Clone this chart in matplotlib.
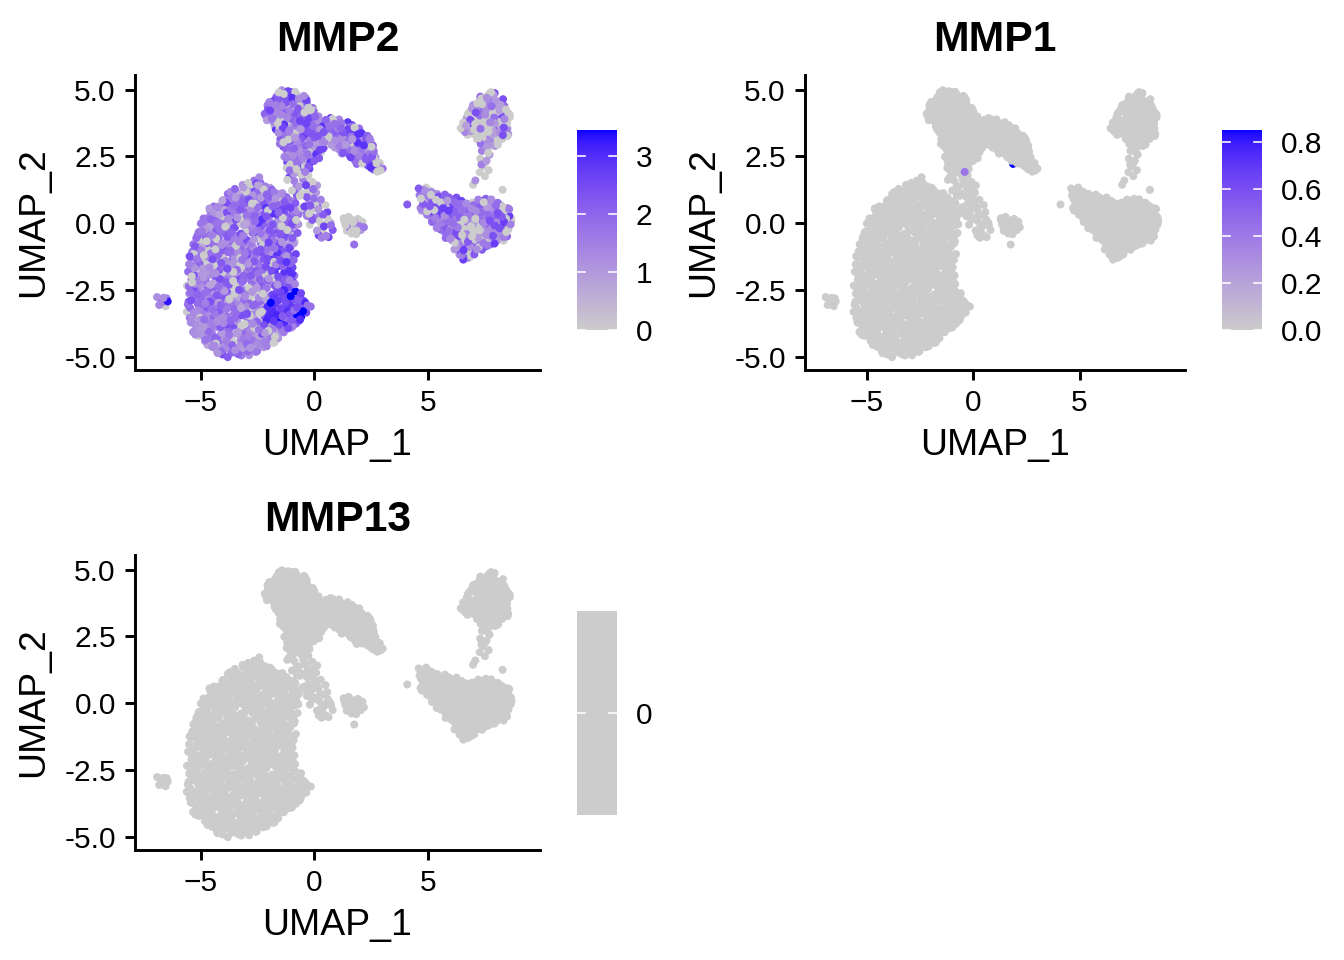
import numpy as np
import matplotlib
matplotlib.use("Agg")
import matplotlib.pyplot as plt
from matplotlib.path import Path

plt.rcParams['font.family'] = ['Liberation Sans', 'DejaVu Sans']

# =========================
# Data
# =========================
GENES = ["MMP2", "MMP1", "MMP13"]

# cluster outlines in UMAP space (UMAP_1, UMAP_2) and number of cells in each
BIG_X = [-2.5, -1.9, -1.3, -0.7, -0.6, -0.8, -0.8, -0.5, -0.1, -0.15, -0.7, -1.4, -1.9, -2.8, -3.8, -4.6, -5.2, -5.65, -5.6, -5.35, -5.0, -4.5, -3.8, -3.1]
BIG_Y = [1.8, 1.4, 1.1, 0.9, 0.2, -0.8, -2.4, -2.7, -3.0, -3.35, -3.7, -4.2, -4.65, -4.95, -5.05, -4.8, -4.3, -3.6, -1.6, -0.6, 0.1, 0.7, 1.2, 1.5]
TOP_X = [-2.3, -1.9, -1.4, -0.6, -0.2, 0.3, 0.9, 1.5, 2.1, 2.5, 2.7, 3.1, 2.9, 2.3, 1.8, 1.2, 0.7, 0.3, -0.2, -0.6, -1.3, -1.5, -1.6, -2.0]
TOP_Y = [4.2, 4.8, 5.0, 4.95, 4.5, 3.95, 4.0, 3.8, 3.5, 3.2, 2.6, 2.0, 1.85, 2.1, 2.3, 2.6, 2.9, 2.5, 2.0, 1.95, 2.2, 2.9, 3.4, 3.7]
BRIDGE_X = [-1.3, -0.3, 0.3, 0.8, 0.9, 0.3, -0.3, -0.7, -1.2]
BRIDGE_Y = [2.1, 2.0, 1.2, 0.4, -0.5, -0.6, 0.0, 0.8, 1.4]
BLOB_X = [1.1, 1.6, 2.2, 2.2, 1.7, 1.2]
BLOB_Y = [0.2, 0.25, 0.1, -0.35, -0.45, -0.2]
LEFT_X = [-7.0, -6.5, -6.25, -6.5, -7.0]
LEFT_Y = [-2.75, -2.75, -3.0, -3.15, -3.05]
LR_X = [4.6, 5.2, 5.8, 6.3, 6.8, 7.4, 8.0, 8.5, 8.75, 8.7, 8.3, 7.6, 7.0, 6.6, 6.3, 5.9, 5.3, 4.6]
LR_Y = [1.4, 1.3, 1.1, 0.95, 0.75, 0.95, 0.9, 0.7, 0.3, -0.3, -0.7, -0.9, -1.2, -1.5, -1.2, -0.7, -0.1, 0.5]
UR_X = [6.9, 7.3, 7.8, 8.3, 8.65, 8.6, 8.2, 7.7, 7.3, 7.0, 6.5, 6.4, 6.6]
UR_Y = [4.3, 4.8, 4.95, 4.7, 4.0, 3.3, 2.95, 2.8, 2.9, 3.3, 3.3, 3.6, 3.9]
STALK_X = [7.3, 7.7, 7.8, 7.5, 7.3, 7.2]
STALK_Y = [2.9, 2.9, 2.2, 1.6, 1.7, 2.3]

CLUSTER_OUTLINES = [(BIG_X, BIG_Y), (TOP_X, TOP_Y), (BRIDGE_X, BRIDGE_Y), (BLOB_X, BLOB_Y),
                    (LEFT_X, LEFT_Y), (LR_X, LR_Y), (UR_X, UR_Y), (STALK_X, STALK_Y)]
CLUSTER_CELLS = [820, 400, 60, 22, 8, 270, 130, 12]

# MMP2 levels seen in each cluster (cycled over its cells)
MMP2_BIG = [1.6, 1.0, 0.0, 1.9, 1.3, 2.2, 0.8, 1.5, 0.0, 2.0, 1.2, 1.7, 2.4, 1.1, 1.8]
MMP2_TOP = [1.8, 1.2, 0.0, 2.2, 1.5, 2.6, 1.0, 2.0, 0.0, 1.7, 2.9, 1.4, 2.3]
MMP2_BRIDGE = [0.0, 1.5, 0.0, 2.2, 0.0, 1.0, 2.6, 1.8]
MMP2_BLOB = [0.0, 0.0, 1.0, 0.0, 0.0, 1.6, 0.0]
MMP2_LEFT = [1.4, 3.3, 1.2, 0.0, 1.6]
MMP2_LR = [1.9, 1.3, 2.4, 0.0, 1.6, 2.1, 1.0, 2.7, 1.5, 0.0, 2.2, 1.2, 1.8]
MMP2_UR = [0.0, 1.2, 0.0, 0.9, 1.8, 0.0, 1.4, 0.0, 2.4, 1.0, 0.0]
MMP2_STALK = [0.0, 1.0, 0.0, 1.5, 0.0]
MMP2_LEVELS = [MMP2_BIG, MMP2_TOP, MMP2_BRIDGE, MMP2_BLOB, MMP2_LEFT, MMP2_LR, MMP2_UR, MMP2_STALK]

# darker right half and strong corner of the big cluster, grey patch in the right cluster
DARK_X = [-2.4, -0.6, -0.7, -0.6, -2.0, -2.6]
DARK_Y = [0.8, 0.8, -1.0, -2.5, -2.6, -0.5]
MMP2_DARK = [2.2, 2.6, 1.7, 2.9, 2.0, 0.0, 2.4, 1.4, 2.3, 1.1]
HOT_X = [-2.0, -0.6, -0.1, -0.3, -1.2, -2.2]
HOT_Y = [-2.5, -2.5, -3.1, -3.5, -4.0, -3.6]
MMP2_HOT = [2.6, 3.0, 2.2, 3.45, 2.4, 2.8, 1.8, 3.1, 2.5]
PATCH_X = [6.6, 7.4, 7.5, 7.0, 6.6]
PATCH_Y = [0.2, 0.2, -0.6, -0.7, -0.3]
MMP2_PATCH = [0.0, 0.0, 1.0, 0.0, 1.4, 0.0]
REGIONS = [(0, DARK_X, DARK_Y, MMP2_DARK), (0, HOT_X, HOT_Y, MMP2_HOT), (5, PATCH_X, PATCH_Y, MMP2_PATCH)]

# lone cells
LONE_X = [4.1, 1.76, 7.0, 8.3, 7.1]
LONE_Y = [0.7, -0.8, 1.44, 1.25, 1.6]
LONE_MMP2 = [2.2, 1.8, 0.0, 0.0, 1.2]

# the only two MMP1+ cells
MMP1_X = [1.875, -0.4]
MMP1_Y = [2.22, 1.92]
MMP1_VAL = [0.85, 0.42]
MMP1_MMP2 = [2.0, 1.5]

XLIM = (-7.9, 9.95)
YLIM = (-5.5, 5.55)
GREY = "#CCCCCC"
HIGH = "#0000FF"


# =========================
# Helpers
# =========================
def halton(n, base, start):
    out = np.zeros(n)
    for i in range(n):
        f, r, k = 1.0, 0.0, i + start
        while k > 0:
            f /= base
            r += f * (k % base)
            k //= base
        out[i] = r
    return out


def fill_outline(xs, ys, n_cells, start):
    """spread n_cells evenly (quasi-random Halton) inside an outline"""
    path = Path(np.column_stack([xs, ys]))
    x0, x1, y0, y1 = min(xs), max(xs), min(ys), max(ys)
    m = n_cells * 4 + 50
    while True:
        px = x0 + (x1 - x0) * halton(m, 2, start)
        py = y0 + (y1 - y0) * halton(m, 3, start)
        inside = path.contains_points(np.column_stack([px, py]))
        if inside.sum() >= n_cells:
            return px[inside][:n_cells], py[inside][:n_cells]
        m *= 2


M_RGB2XYZ = np.array([[0.4124, 0.3576, 0.1805], [0.2126, 0.7152, 0.0722], [0.0193, 0.1192, 0.9505]])
WHITE = np.array([0.95047, 1.0, 1.08883])


def srgb_to_lab(rgb):
    c = np.where(rgb <= 0.04045, rgb / 12.92, ((rgb + 0.055) / 1.055) ** 2.4)
    xyz = M_RGB2XYZ @ c / WHITE
    f = np.where(xyz > 0.008856, np.cbrt(xyz), 7.787 * xyz + 16 / 116)
    return np.array([116 * f[1] - 16, 500 * (f[0] - f[1]), 200 * (f[1] - f[2])])


def lab_to_srgb(lab):
    fy = (lab[0] + 16) / 116
    f = np.array([fy + lab[1] / 500, fy, fy - lab[2] / 200])
    xyz = np.where(f ** 3 > 0.008856, f ** 3, (f - 16 / 116) / 7.787) * WHITE
    c = np.clip(np.linalg.inv(M_RGB2XYZ) @ xyz, 0, 1)
    return np.where(c <= 0.0031308, 12.92 * c, 1.055 * c ** (1 / 2.4) - 0.055)


# ggplot-style gradient: interpolate lightgrey -> blue in Lab space
lab_lo = srgb_to_lab(np.array(matplotlib.colors.to_rgb(GREY)))
lab_hi = srgb_to_lab(np.array(matplotlib.colors.to_rgb(HIGH)))
GRAD = [lab_to_srgb(lab_lo + t * (lab_hi - lab_lo)) for t in np.linspace(0, 1, 256)]
CMAP = matplotlib.colors.ListedColormap(GRAD)

# =========================
# Build cells
# =========================
cell_x, cell_y, mmp2 = [MMP1_X[0]], [MMP1_Y[0]], [MMP1_MMP2[0]]
for k, ((xs, ys), n, levels) in enumerate(zip(CLUSTER_OUTLINES, CLUSTER_CELLS, MMP2_LEVELS)):
    px, py = fill_outline(xs, ys, n, start=1 + 37 * k)
    vals = np.array([levels[i % len(levels)] for i in range(n)])
    pts = np.column_stack([px, py])
    for ck, rx, ry, rlev in REGIONS:
        if ck != k:
            continue
        inside = Path(np.column_stack([rx, ry])).contains_points(pts)
        vals[inside] = [rlev[i % len(rlev)] for i in range(inside.sum())]
    cell_x += list(px)
    cell_y += list(py)
    mmp2 += list(vals)
cell_x += LONE_X + [MMP1_X[1]]
cell_y += LONE_Y + [MMP1_Y[1]]
mmp2 += LONE_MMP2 + [MMP1_MMP2[1]]

cell_x = np.array(cell_x)
cell_y = np.array(cell_y)
n_all = len(cell_x)
mmp1 = np.zeros(n_all)
mmp1[0] = MMP1_VAL[0]
mmp1[-1] = MMP1_VAL[1]
EXPR = {"MMP2": np.array(mmp2), "MMP1": mmp1, "MMP13": np.zeros(n_all)}
CBAR_TICKS = {"MMP2": ([0, 1, 2, 3], ["0", "1", "2", "3"]),
              "MMP1": ([0, 0.2, 0.4, 0.6, 0.8], ["0.0", "0.2", "0.4", "0.6", "0.8"]),
              "MMP13": ([0], ["0"])}

# =========================
# Plotting
# =========================
W, H = 1344, 960
fig = plt.figure(figsize=(7, 5), dpi=192)


def px_box(l, t, r, b):
    return [l / W, 1 - b / H, (r - l) / W, (b - t) / H]


PANEL_BOX = {"MMP2": px_box(135, 75, 540, 370), "MMP1": px_box(805, 75, 1185, 370),
             "MMP13": px_box(135, 555, 540, 850)}
CBAR_BOX = {"MMP2": px_box(577, 130, 617, 333), "MMP1": px_box(1222, 130, 1262, 333),
            "MMP13": px_box(577, 611, 617, 815)}

for gene in GENES:
    vals = EXPR[gene]
    ax = fig.add_axes(PANEL_BOX[gene])
    vmax = vals.max()
    if vmax > 0:
        colors = CMAP(vals / vmax)
    else:
        colors = GREY
    ax.scatter(cell_x, cell_y, c=colors, s=9, edgecolors="none")
    ax.set_xlim(*XLIM)
    ax.set_ylim(*YLIM)
    ax.set_xticks([-5, 0, 5])
    ax.set_yticks([-5.0, -2.5, 0.0, 2.5, 5.0])
    ax.set_yticklabels(["-5.0", "-2.5", "0.0", "2.5", "5.0"])
    for s in ["top", "right"]:
        ax.spines[s].set_visible(False)
    for s in ["left", "bottom"]:
        ax.spines[s].set_linewidth(1.1)
    ax.tick_params(length=3.7, width=1.1, pad=3.5, labelsize=11.2)
    ax.set_xlabel("UMAP_1", fontsize=14, labelpad=4)
    ax.set_ylabel("UMAP_2", fontsize=14, labelpad=5)
    ax.set_title(gene, fontsize=16, fontweight="bold", pad=9)

    # colour bar
    cax = fig.add_axes(CBAR_BOX[gene])
    ticks, labels = CBAR_TICKS[gene]
    if vmax > 0:
        grad = np.linspace(0, vmax, 256)[:, None]
        margin = vmax * 3 / 203
        cax.imshow(grad, extent=(0, 1, 0, vmax), origin="lower", aspect="auto", cmap=CMAP)
        cax.set_ylim(-margin, vmax)
    else:
        cax.imshow([[0]], extent=(0, 1, -1, 1), aspect="auto", cmap=matplotlib.colors.ListedColormap([GREY]))
        cax.set_ylim(-1, 1)
    cax.set_xlim(0, 1)
    for t in ticks:
        cax.plot([0, 0.2], [t, t], color="white", lw=0.6)
        cax.plot([0.8, 1], [t, t], color="white", lw=0.6)
    cax.set_xticks([])
    cax.yaxis.tick_right()
    cax.set_yticks(ticks)
    cax.set_yticklabels(labels)
    cax.tick_params(length=0, pad=7, labelsize=11.2)
    for s in cax.spines.values():
        s.set_visible(False)

fig.savefig("out.png", dpi=192)
